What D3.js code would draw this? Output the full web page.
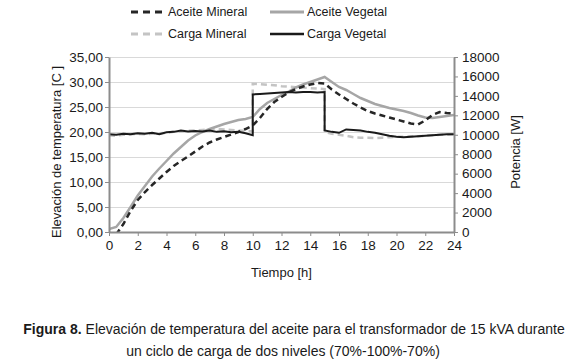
<!DOCTYPE html>
<html>
<head>
<meta charset="utf-8">
<script src="https://cdn.jsdelivr.net/npm/d3@7"></script>
<style>
  body { margin: 0; background: #fff; }
  svg { font-family: "Liberation Sans", Arial, sans-serif; }
</style>
</head>
<body>
<script>
// temperatures every half hour
const hours = [0,0.5,1,1.5,2,2.5,3,3.5,4,4.5,5,5.5,6,6.5,7,7.5,8,8.5,9,9.5,10,10.5,11,11.5,12,12.5,13,13.5,14,14.5,15,15.5,16,16.5,17,17.5,18,18.5,19,19.5,20,20.5,21,21.5,22,22.5,23,23.5,24];
const aceiteVegetal = [0.6,1.0,2.8,5.0,7.3,9.2,11.1,12.7,14.2,15.7,17.0,18.3,19.3,20.0,20.6,21.1,21.6,22.0,22.4,22.6,23.0,24.6,25.8,26.6,27.4,28.1,28.9,29.5,30.0,30.5,31.0,30.0,29.0,28.4,27.6,26.8,26.2,25.6,25.2,24.8,24.5,24.2,23.8,23.3,22.9,22.8,23.0,23.2,23.4];
// mineral oil starts just under zero
const aceiteMineral = [null,-0.5,1.6,4.2,6.4,8.0,9.4,10.7,12.0,13.2,14.2,15.1,16.1,17.1,17.9,18.5,19.0,19.5,20.0,20.6,21.3,22.8,24.6,26.0,27.0,27.9,28.6,29.1,29.5,29.8,29.7,28.5,27.5,26.6,25.7,24.9,24.2,23.7,23.3,22.9,22.5,22.1,21.7,21.5,22.3,23.4,24.0,23.8,23.7];

// loads (W), steps at 10 h and 15 h
const loadHours = [0,0.5,1,1.5,2,2.5,3,3.5,4,4.5,5,5.5,6,6.5,7,7.5,8,8.5,9,9.5,10,10,10.5,11,11.5,12,12.5,13,13.5,14,14.5,15,15,15.5,16,16.5,17,17.5,18,18.5,19,19.5,20,20.5,21,21.5,22,22.5,23,23.5,24];
const cargaVegetal = [10050,10000,10100,10050,10150,10100,10200,10050,10250,10300,10450,10350,10400,10350,10450,10300,10350,10250,10300,10150,9950,14150,14200,14250,14300,14350,14400,14350,14400,14400,14350,14400,10450,10300,10200,10550,10500,10450,10300,10200,10050,9900,9800,9750,9800,9850,9900,9950,10000,10050,10050];
const cargaMineral = [9950,9900,10000,10050,10100,10050,10100,10150,10200,10300,10350,10400,10450,10500,10550,10600,10550,10500,10450,10400,10350,15250,15200,15150,15100,15000,14950,14900,14850,14800,14750,14700,10300,10100,10000,9900,9750,9700,9700,9650,9700,9750,9800,9800,9850,9850,9900,9950,10000,10000,10050];

const xTicks = d3.range(0, 25, 2);
const leftTicks = [0,5,10,15,20,25,30,35];
const rightTicks = [0,2000,4000,6000,8000,10000,12000,14000,16000,18000];

const width = 566, height = 362;
const margin = {top: 57, right: 112, bottom: 130, left: 109};

const svg = d3.select("body").append("svg")
  .attr("width", width)
  .attr("height", height);

const x = d3.scaleLinear().domain([0, 24]).range([margin.left, width - margin.right]);
const yL = d3.scaleLinear().domain([0, 35]).range([height - margin.bottom, margin.top]);
const yR = d3.scaleLinear().domain([0, 18000]).range([height - margin.bottom, margin.top]);

const axisColor = "#8c8c8c";

// gridlines
svg.append("g")
  .selectAll("line")
  .data(leftTicks.slice(1))
  .join("line")
    .attr("x1", x(0))
    .attr("x2", x(24))
    .attr("y1", d => yL(d) + 0.5)
    .attr("y2", d => yL(d) + 0.5)
    .attr("stroke", "#d9d9d9")
    .attr("stroke-width", 1);

svg.append("defs").append("clipPath").attr("id", "plot")
  .append("rect")
    .attr("x", x(0))
    .attr("y", yL(35) - 5)
    .attr("width", x(24) - x(0))
    .attr("height", yL(0) - yL(35) + 5);

const plot = svg.append("g").attr("clip-path", "url(#plot)");

const tempLine = d3.line()
  .defined(d => d[1] !== null)
  .x(d => x(d[0]))
  .y(d => yL(d[1]));
const loadLine = d3.line()
  .x(d => x(d[0]))
  .y(d => yR(d[1]));

const series = [
  {name: "Carga Mineral", data: d3.zip(loadHours, cargaMineral), line: loadLine, color: "#c4c4c4", w: 2.5, dash: "6,4"},
  {name: "Aceite Vegetal", data: d3.zip(hours, aceiteVegetal), line: tempLine, color: "#a6a6a6", w: 2.5, dash: null},
  {name: "Aceite Mineral", data: d3.zip(hours, aceiteMineral), line: tempLine, color: "#262626", w: 2.5, dash: "6,4"},
  {name: "Carga Vegetal", data: d3.zip(loadHours, cargaVegetal), line: loadLine, color: "#1a1a1a", w: 2, dash: null}
];

plot.selectAll("path")
  .data(series)
  .join("path")
    .attr("fill", "none")
    .attr("stroke", d => d.color)
    .attr("stroke-width", d => d.w)
    .attr("stroke-dasharray", d => d.dash)
    .attr("d", d => d.line(d.data));

// axes
const styleAxis = g => {
  g.select(".domain").attr("stroke", axisColor).attr("stroke-width", 2);
  g.selectAll(".tick line").attr("stroke", axisColor).attr("stroke-width", 1);
  g.selectAll(".tick text").attr("fill", "#1a1a1a").attr("font-size", 13.5);
};

svg.append("g")
  .attr("transform", `translate(0,${yL(0)})`)
  .call(d3.axisBottom(x).tickValues(xTicks).tickSize(4).tickSizeOuter(0).tickPadding(4))
  .call(styleAxis);

svg.append("g")
  .attr("transform", `translate(${x(0)},0)`)
  .call(d3.axisLeft(yL).tickValues(leftTicks).tickSize(4).tickSizeOuter(0).tickPadding(2)
    .tickFormat(d => d3.format(".2f")(d).replace(".", ",")))
  .call(styleAxis);

svg.append("g")
  .attr("transform", `translate(${x(24)},0)`)
  .call(d3.axisRight(yR).tickValues(rightTicks).tickSize(4).tickSizeOuter(0).tickPadding(4)
    .tickFormat(d3.format("d")))
  .call(styleAxis);

// axis titles
svg.append("text")
  .attr("x", (x(0) + x(24)) / 2)
  .attr("y", 277)
  .attr("text-anchor", "middle")
  .attr("font-size", 13)
  .attr("fill", "#1a1a1a")
  .text("Tiempo [h]");

svg.append("text")
  .attr("transform", `translate(61,152) rotate(-90)`)
  .attr("text-anchor", "middle")
  .attr("font-size", 13)
  .attr("fill", "#1a1a1a")
  .text("Elevación de temperatura [C ]");

svg.append("text")
  .attr("transform", `translate(520,152) rotate(-90)`)
  .attr("text-anchor", "middle")
  .attr("font-size", 13)
  .attr("fill", "#1a1a1a")
  .text("Potencia [W]");

// legend
const legendPos = {
  "Aceite Mineral": [131, 12],
  "Aceite Vegetal": [270, 12],
  "Carga Mineral": [131, 34],
  "Carga Vegetal": [270, 34]
};
const legend = svg.append("g")
  .selectAll("g")
  .data(series)
  .join("g")
    .attr("transform", d => `translate(${legendPos[d.name][0]},${legendPos[d.name][1]})`);
legend.append("line")
  .attr("x1", 0).attr("x2", 34)
  .attr("stroke", d => d.color)
  .attr("stroke-width", d => d.w + 0.5)
  .attr("stroke-dasharray", d => d.dash ? "7,5" : null);
legend.append("text")
  .attr("x", 37)
  .attr("dy", "0.35em")
  .attr("font-size", 12.5)
  .attr("fill", "#1a1a1a")
  .text(d => d.name);

// caption
const cap = svg.append("text")
  .attr("x", 294)
  .attr("y", 334)
  .attr("text-anchor", "middle")
  .attr("font-size", 14)
  .attr("fill", "#1a1a1a");
cap.append("tspan").attr("font-weight", "bold").text("Figura 8.");
cap.append("tspan").text(" Elevación de temperatura del aceite para el transformador de 15 kVA durante");

svg.append("text")
  .attr("x", 283)
  .attr("y", 356)
  .attr("text-anchor", "middle")
  .attr("font-size", 14)
  .attr("fill", "#1a1a1a")
  .text("un ciclo de carga de dos niveles (70%-100%-70%)");
</script>
</body>
</html>
